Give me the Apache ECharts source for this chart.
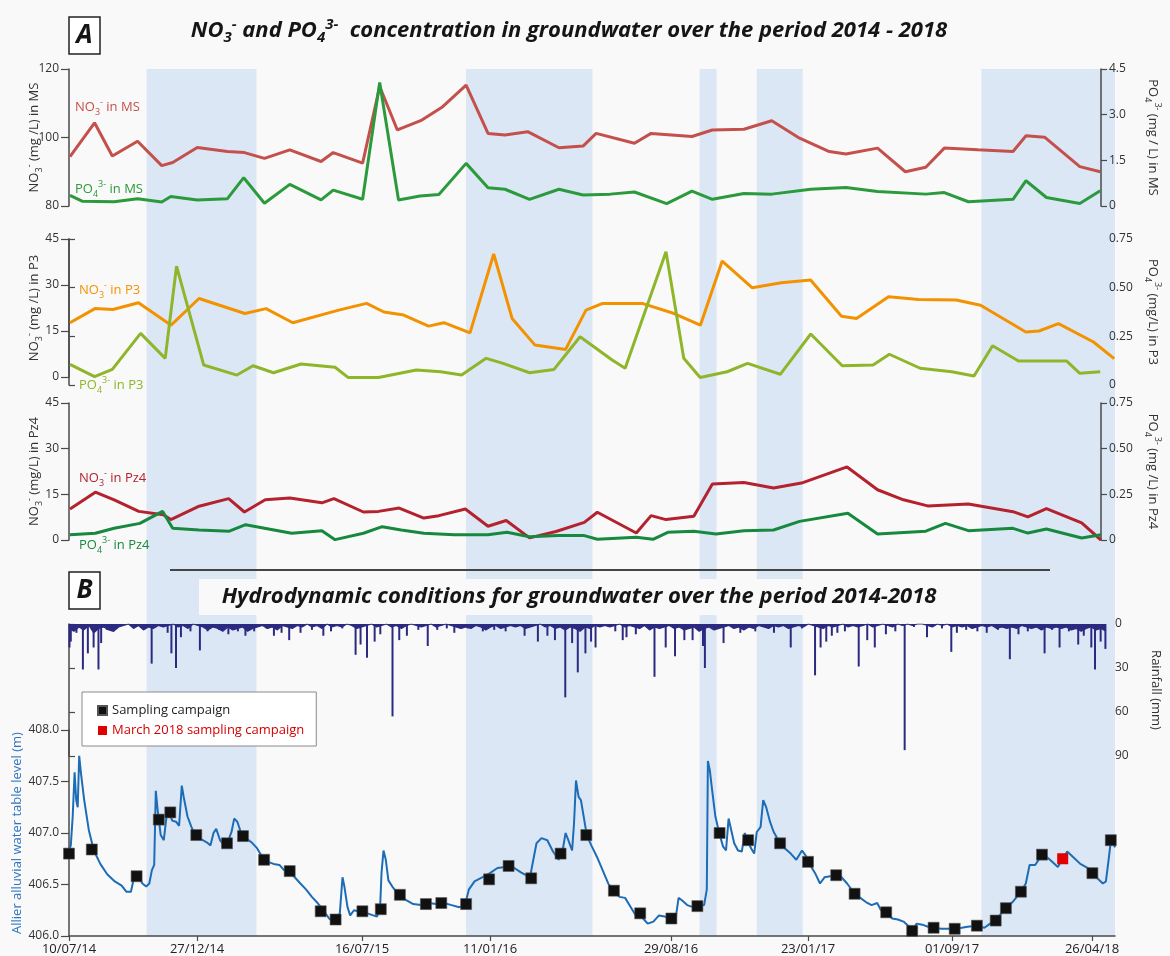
<!DOCTYPE html>
<html>
<head>
<meta charset="utf-8">
<script src="https://cdn.jsdelivr.net/npm/echarts@6.0.0/dist/echarts.min.js"></script>
<style>
  html, body { margin: 0; padding: 0; background: #f9f9f9; }
  #chart { width: 1170px; height: 956px; }
</style>
</head>
<body>
<div id="chart"></div>
<script>
const FONT = "'Open Sans', 'Noto Sans', sans-serif";
const BG = '#f9f9f9';

// x is the position along the shared time line (0 = 10/07/14)
const X_MAX = 1046;
const tickPos = [0, 128, 293, 421, 602, 739, 883, 1023];
const tickLabels = ['10/07/14', '27/12/14', '16/07/15', '11/01/16', '29/08/16', '23/01/17', '01/09/17', '26/04/18'];

// shaded periods
const bandStart = [77.6, 397, 630.6, 687.8, 912.4];
const bandEnd = [187.4, 523.4, 647.6, 733.7, 1046];

// panel A : MS
const no3MS = [[1,94.4],[25.9,104.3],[43.9,94.6],[69.5,98.9],[94,91.8],[105.1,92.7],[130,97.1],[160.6,95.9],[177.8,95.6],[198.1,93.9],[223.8,96.4],[255.5,93.0],[267.8,95.6],[297.6,92.5],[314.9,114.9],[332.8,102.2],[357.7,105.1],[378.8,109.0],[402.5,115.3],[424.7,101.2],[441.9,100.7],[464.9,101.7],[496.6,97.0],[521,97.5],[534.3,101.2],[573.1,98.3],[590,101.2],[631.4,100.3],[652.1,102.2],[684.1,102.4],[712.3,104.9],[740.5,99.8],[770.6,95.9],[787.5,95.2],[819.5,96.9],[847.7,90.0],[868.4,91.3],[887.2,96.9],[921.1,96.4],[956.8,95.9],[970,100.5],[988.8,100.1],[1024.5,91.5],[1045.2,90.0]];
const po4MS = [[1,0.35],[13.3,0.16],[45.8,0.14],[69.5,0.24],[94,0.13],[103.2,0.31],[130,0.20],[160.6,0.24],[177.1,0.93],[198.1,0.09],[223.8,0.71],[255.5,0.20],[267.8,0.52],[297.6,0.22],[314.9,4.06],[334,0.20],[355.8,0.33],[374.9,0.38],[402.5,1.40],[424.7,0.60],[441.9,0.55],[466.8,0.22],[496.6,0.55],[521,0.36],[548.6,0.39],[573.1,0.46],[605.8,0.08],[631.4,0.49],[652.1,0.22],[684.1,0.41],[712.3,0.39],[751.8,0.55],[787.5,0.61],[819.5,0.48],[868.4,0.39],[887.2,0.44],[911.6,0.14],[956.8,0.22],[970,0.83],[990.7,0.28],[1024.5,0.08],[1045.2,0.50]];

// panel A : P3
const no3P3 = [[1,17.7],[25.9,22.3],[43.9,22.0],[69.5,24.2],[102.1,16.9],[130,25.6],[175.9,20.7],[197,22.3],[223.8,17.7],[269.7,21.8],[297.6,24.0],[314.9,21.2],[334.7,20.2],[359.6,16.6],[374.9,17.7],[401,14.4],[424.7,40.1],[443.1,19.1],[466,10.4],[496.6,9.0],[517,21.8],[533.6,24.0],[573.1,24.0],[605.1,20.7],[631.4,16.9],[653.2,37.8],[683.3,29.1],[712.3,30.7],[741.6,31.6],[772.5,19.8],[787.5,19.1],[819.5,26.2],[849.6,25.3],[887.2,25.1],[911.6,23.4],[956.8,14.7],[970,15.0],[989.5,17.4],[1024.5,11.4],[1045.2,6.0]];
const po4P3 = [[1,0.106],[25.9,0.043],[43.9,0.080],[72.6,0.265],[97.5,0.137],[109,0.611],[136.5,0.103],[170.2,0.051],[186.6,0.099],[207.3,0.063],[235.2,0.108],[269.7,0.091],[283.1,0.038],[313.7,0.039],[352,0.077],[376.8,0.068],[397.9,0.051],[422.8,0.137],[440,0.111],[466.8,0.063],[491.6,0.080],[518,0.248],[550.5,0.128],[563.7,0.086],[605.1,0.685],[623.1,0.137],[639.7,0.039],[667.1,0.068],[687.8,0.111],[720.9,0.055],[751.8,0.262],[783.7,0.099],[815,0.103],[831.5,0.158],[862.7,0.086],[894.7,0.068],[917.3,0.046],[936.1,0.202],[962.4,0.123],[1011.3,0.123],[1024.5,0.060],[1045.2,0.068]];

// panel A : Pz4
const no3Pz4 = [[1,10.2],[26.7,15.7],[45.8,13.2],[70.7,9.4],[95.6,8.3],[103.2,6.7],[131.9,11.1],[161.8,13.6],[177.8,9.2],[198.9,13.2],[223.8,13.8],[256.3,12.2],[268.5,13.6],[298.4,9.2],[313.7,9.4],[334.7,10.5],[359.6,7.2],[374.9,8.0],[401.7,10.2],[424.7,4.5],[443.1,6.4],[466.8,0.7],[493.6,2.8],[522.3,5.8],[535.5,9.1],[575,2.3],[590,8.0],[605.1,6.7],[633.3,7.8],[652.1,18.4],[684.1,18.9],[714.1,17.1],[742.4,18.7],[788.6,24.0],[819.5,16.5],[845.8,13.2],[870.3,11.2],[911.6,11.8],[956.8,9.3],[971.9,7.6],[990.7,10.3],[1026.4,5.6],[1046,0]];
const po4Pz4 = [[1,0.029],[26.7,0.037],[45.8,0.064],[71.8,0.091],[94.8,0.157],[105.1,0.064],[131.9,0.055],[162.5,0.048],[179,0.084],[225.7,0.037],[256.3,0.051],[269.7,0.002],[298.4,0.037],[317.5,0.073],[336.7,0.055],[359.6,0.037],[390.2,0.029],[424.7,0.029],[443.8,0.042],[466.8,0.018],[495.5,0.024],[522.3,0.024],[535.5,0.004],[575,0.015],[591.9,0.004],[606.9,0.042],[633.3,0.048],[655.8,0.033],[684.1,0.051],[714.1,0.055],[740.5,0.102],[789.4,0.146],[819.5,0.033],[868.4,0.048],[888.3,0.091],[911.6,0.051],[956.8,0.064],[971.9,0.038],[990.7,0.060],[1026.4,0.011],[1046,0.029]];

// panel B : rainfall (mm)
const RAIN_STEP = 5;
const rainSmall = [3,5,2,4,1,6,3,2,4,5, 2,1,0,3,1,4,2,3,1,2, 1,0,2,1,3,0,1,2,4,2, 3,5,2,4,3,2,5,3,2,1,
  3,2,4,1,2,3,1,2,0,2, 1,3,0,2,1,2,0,1,3,2, 1,0,2,1,0,2,1,3,1,0, 1,2,1,0,2,1,0,1,2,3,
  2,3,1,2,4,2,1,3,2,1, 2,1,3,2,1,0,2,1,3,2, 4,2,3,5,2,3,1,2,1,2, 1,0,2,1,2,3,1,4,2,3,
  2,1,3,2,4,3,2,5,3,2, 4,3,2,1,3,2,4,2,3,1, 2,3,1,2,1,3,2,1,2,0, 1,2,3,1,2,1,0,2,1,2,
  1,0,2,1,0,1,2,0,1,0, 1,0,0,1,2,0,1,0,2,1, 2,1,3,2,1,2,1,3,2,3, 2,3,1,2,3,2,4,2,3,2,
  3,2,4,3,5,3,2,4,3,5];
const rainSpikes = [[0.5,16],[1.8,12],[7.5,6],[14,31],[19,20],[24.8,16],[29.7,31],[32.4,13],[38.2,4],[47.7,3],[68,2],[83.3,27],[99.4,6],[103.2,20],[107.8,30],[112.8,9],[122.4,5],[131.9,18],[139.6,5],[151.1,4],[160.6,7],[170.2,5],[177.8,8],[186.6,5],[198.9,3],[206.5,8],[214.2,6],[221.9,11],[233.3,6],[244.8,4],[256.3,8],[264,5],[275.4,3],[288.8,21],[293.8,14],[300.3,23],[308,12],[313.7,7],[326,63],[332.8,11],[340.5,8],[352,4],[361.5,15],[371.1,4],[380.7,3],[388.3,6],[401.7,3],[417,5],[428.5,4],[440,5],[459.1,8],[472.5,12],[482.1,8],[489.7,11],[500.1,50],[507,13],[512.7,33],[520.4,20],[526.1,12],[530.6,16],[550.5,5],[558,11],[561.8,9],[571.2,7],[590,36],[601.3,16],[610.7,22],[620.1,11],[628.4,11],[638.9,15],[640.8,30],[659.6,13],[676.5,6],[691.6,5],[710.4,6],[727.3,16],[738.6,3],[751.8,35],[757.4,16],[763.1,12],[768.7,8],[774.3,6],[781.9,5],[795.8,29],[804.4,11],[812,16],[823.2,7],[832.7,5],[842.1,86],[851.5,2],[864.6,9],[879.7,3],[889.1,19],[894.7,6],[904.1,4],[915.4,5],[924.8,6],[936.1,4],[948.1,24],[956.8,7],[966.2,5],[983.1,20],[990.7,4],[998.2,16],[1007.6,5],[1017,14],[1022.6,8],[1030.2,16],[1033.9,31],[1039.6,12],[1044.4,17]];

// panel B : water table level (m)
const waterLevel = [[0,406.83],[1.8,406.88],[3.7,407.16],[5.6,407.59],[7.2,407.32],[8.7,407.25],[10.2,407.75],[12.1,407.57],[15.2,407.32],[19.8,407.03],[24.8,406.83],[31.3,406.70],[38.2,406.60],[45.8,406.53],[52.7,406.49],[57.3,406.43],[61.9,406.43],[64.9,406.56],[68.8,406.59],[73.4,406.51],[77.2,406.48],[80.3,406.51],[82.9,406.64],[85.2,406.69],[86.8,407.41],[88.7,407.22],[91.7,406.98],[94.8,406.93],[97.5,407.16],[100.2,407.20],[103.2,407.12],[107,407.11],[110.1,407.07],[112.8,407.46],[114.7,407.35],[118.5,407.16],[122.4,407.06],[126.2,406.98],[130,406.95],[133.8,406.93],[137.7,406.91],[141.5,406.88],[144.5,407.00],[147.2,407.04],[151.1,406.93],[154.9,406.88],[158.7,406.91],[162.5,407.01],[165.2,407.14],[168.3,407.11],[172.1,407.00],[175.9,406.95],[179.8,406.93],[183.6,406.90],[188.2,406.85],[193.1,406.77],[198.9,406.72],[204.6,406.70],[210.4,406.69],[215,406.64],[219.9,406.64],[225.7,406.57],[231.4,406.51],[237.2,406.45],[242.9,406.38],[248.6,406.32],[254.4,406.25],[260.1,406.17],[264,406.14],[267.8,406.17],[270.8,406.22],[273.5,406.57],[275.4,406.48],[278.5,406.28],[281.2,406.20],[285,406.25],[288.8,406.24],[292.6,406.25],[298.4,406.22],[304.1,406.20],[307.9,406.19],[311,406.25],[312.5,406.61],[314.5,406.83],[316.8,406.74],[319.4,406.54],[323.3,406.48],[329,406.41],[336.7,406.35],[344.3,406.31],[352,406.30],[359.6,406.32],[367.3,406.31],[374.9,406.32],[382.6,406.30],[390.2,406.28],[396,406.30],[399.8,406.45],[405.5,406.53],[413.2,406.57],[420.9,406.61],[428.5,406.66],[436.2,406.67],[443.8,406.67],[451.5,406.62],[461,406.57],[464.9,406.77],[467.5,406.90],[472.5,406.95],[478.3,406.93],[484,406.82],[489.7,406.74],[493.6,406.83],[496.6,407.00],[499.3,406.93],[503.1,406.83],[505,407.09],[507,407.51],[509.6,407.35],[511.9,407.32],[517.8,406.98],[522.3,406.88],[527.9,406.77],[533.6,406.64],[539.2,406.51],[544.9,406.43],[550.5,406.38],[556.1,406.37],[561.8,406.28],[567.4,406.19],[571.2,406.20],[575,406.16],[578.7,406.12],[584.4,406.14],[590,406.20],[595.6,406.19],[602.4,406.17],[606.9,406.19],[609.6,406.37],[612.6,406.35],[618.2,406.30],[623.9,406.28],[628.4,406.29],[635.1,406.30],[637.8,406.45],[638.9,407.70],[640.8,407.61],[642.7,407.45],[646.4,407.16],[650.2,407.00],[654,406.87],[657,406.83],[659.6,407.14],[662.2,407.03],[665.2,406.90],[669,406.83],[672.8,406.82],[675.8,407.00],[679.2,406.91],[682.2,406.85],[685.2,406.80],[687.8,407.01],[691.6,407.06],[694.2,407.32],[697.2,407.25],[701,407.11],[704.7,407.01],[711.1,406.90],[716,406.85],[721.7,406.80],[727.3,406.74],[733,406.83],[736.7,406.78],[740.5,406.70],[746.1,406.61],[751,406.51],[755.5,406.57],[761.2,406.58],[767.2,406.59],[772.5,406.57],[778.1,406.51],[785.6,406.41],[791.3,406.37],[796.9,406.33],[802.6,406.30],[808.2,406.32],[812,406.25],[817.2,406.23],[823.2,406.17],[828.9,406.16],[834.5,406.14],[840.2,406.09],[843.2,406.05],[847.7,406.12],[853.3,406.11],[859,406.09],[864.6,406.08],[872.2,406.07],[879.7,406.07],[885.7,406.07],[892.8,406.08],[898.5,406.09],[907.9,406.10],[915.4,406.08],[921.1,406.12],[926.7,406.15],[932.3,406.22],[936.9,406.27],[943.6,406.33],[951.9,406.43],[956.8,406.51],[960.6,406.69],[966.2,406.69],[973,406.79],[977.5,406.77],[983.2,406.72],[988.8,406.67],[993.7,406.75],[998.2,406.82],[1003.8,406.77],[1011.3,406.70],[1018.9,406.66],[1023.4,406.61],[1028.3,406.56],[1033.9,406.51],[1036.9,406.53],[1039.6,406.74],[1041.8,406.92],[1044.4,406.90],[1046,406.86]];
const campaigns = [[0,406.80],[22.8,406.84],[67.6,406.58],[89.8,407.13],[101.3,407.20],[127.3,406.98],[158,406.90],[174,406.97],[195.1,406.74],[220.7,406.63],[251.7,406.24],[266.6,406.16],[293.4,406.24],[311.8,406.26],[330.9,406.40],[356.9,406.31],[372.3,406.32],[397.1,406.31],[420.1,406.55],[439.6,406.68],[462.2,406.56],[491.6,406.80],[517.3,406.98],[544.9,406.44],[571.2,406.22],[602.4,406.17],[628.4,406.29],[650.6,407.00],[679.2,406.93],[711.1,406.90],[739,406.72],[767.2,406.59],[785.6,406.41],[817.2,406.23],[843.2,406.05],[864.6,406.08],[885.7,406.07],[907.9,406.10],[926.7,406.15],[936.9,406.27],[951.9,406.43],[973,406.79],[1023.4,406.61],[1041.8,406.93]];
const march2018 = [[993.7,406.75]];

const C_NO3_MS = '#c4504c', C_PO4_MS = '#2b9a3c';
const C_NO3_P3 = '#f39200', C_PO4_P3 = '#8fb52a';
const C_NO3_PZ4 = '#b3222d', C_PO4_PZ4 = '#17893f';
const C_RAIN = '#2c2a80';
const C_AXIS = '#4a4a4a';

// rich text styles for sub/superscripts (both echarts "color" and zrender "fill")
function richStyles(color, size, extra) {
  const small = Math.round(size * 0.66);
  const base = Object.assign({ color: color, fill: color, fontFamily: FONT }, extra || {});
  return {
    t: Object.assign({}, base, { fontSize: size, lineHeight: size + 6 }),
    sb: Object.assign({}, base, { fontSize: small, lineHeight: small, verticalAlign: 'bottom' }),
    sp: Object.assign({}, base, { fontSize: small, lineHeight: small, verticalAlign: 'top' })
  };
}
const no3Name = rest => '{t|NO}{sb|3}{sp|-}{t|' + rest + '}';
const po4Name = rest => '{t|PO}{sb|4}{sp|3-}{t|' + rest + '}';

function yAxis(gridIndex, position, min, max, interval, digits, name, opts) {
  opts = opts || {};
  const left = position === 'left';
  const tickLen = left ? 8 : 6;
  return {
    type: 'value', gridIndex, position, min, max, interval,
    inverse: !!opts.inverse,
    axisLine: { show: true, lineStyle: { color: C_AXIS, width: 1.5 } },
    axisTick: { show: true, length: tickLen, lineStyle: { color: C_AXIS, width: 1.2 } },
    axisLabel: {
      color: '#333', fontSize: 12, fontFamily: FONT, margin: tickLen + 2,
      formatter: v => (v === 0 ? '0' : v.toFixed(digits))
    },
    splitLine: { show: false },
    name,
    nameLocation: 'middle',
    nameRotate: left ? 90 : -90,
    nameGap: opts.nameGap || (left ? 25 : 42),
    nameMoveOverlap: false,
    nameTextStyle: { color: opts.nameColor || '#333', fontSize: 13, fontFamily: FONT,
      rich: richStyles(opts.nameColor || '#333', 13) }
  };
}

const grids = [
  { left: 69, right: 55, top: 69, height: 137 },   // MS
  { left: 69, right: 55, top: 239, height: 138 },  // P3 NO3
  { left: 69, right: 55, top: 239, height: 146 },  // P3 PO4
  { left: 69, right: 55, top: 403, height: 137 },  // Pz4
  { left: 69, right: 55, top: 624, height: 132 },  // rainfall
  { left: 69, right: 55, top: 730, height: 206 },  // water table
  { left: 69, right: 55, top: 69, height: 867 }    // shaded periods
];

const xAxes = grids.map((g, i) => {
  const ax = { type: 'value', gridIndex: i, min: 0, max: X_MAX, show: i === 5 };
  if (i === 5) {
    Object.assign(ax, {
      axisLine: { lineStyle: { color: C_AXIS, width: 1.5 } },
      axisTick: { show: true, customValues: tickPos, length: 5, lineStyle: { color: C_AXIS, width: 1.2 } },
      axisLabel: {
        customValues: tickPos, color: '#222', fontSize: 13, fontFamily: FONT, margin: 7,
        formatter: v => tickLabels[tickPos.indexOf(v)] || ''
      },
      splitLine: { show: false }
    });
  }
  return ax;
});

const yAxes = [
  yAxis(0, 'left', 80, 120, 20, 0, no3Name(' (mg /L) in MS')),
  yAxis(0, 'right', 0, 4.5, 1.5, 1, po4Name(' (mg / L) in MS')),
  yAxis(1, 'left', 0, 45, 15, 0, no3Name(' (mg /L) in P3')),
  yAxis(2, 'right', 0, 0.75, 0.25, 2, po4Name(' (mg/L) in P3')),
  yAxis(3, 'left', 0, 45, 15, 0, no3Name(' (mg/L) in Pz4')),
  yAxis(3, 'right', 0, 0.75, 0.25, 2, po4Name(' (mg /L) in Pz4')),
  yAxis(4, 'right', 0, 90, 30, 0, 'Rainfall (mm)', { inverse: true }),
  yAxis(5, 'left', 406, 408, 0.5, 1, 'Allier alluvial water table level (m)', { nameColor: '#2f73bf', nameGap: 45 }),
  { type: 'value', gridIndex: 6, min: 0, max: 1, show: false }
];

function line(data, xi, yi, color, width) {
  return {
    type: 'line', data, xAxisIndex: xi, yAxisIndex: yi, symbol: 'none', z: 3,
    lineStyle: { color, width: width || 3 }, itemStyle: { color }, silent: true
  };
}

function label(x, y, text, color) {
  return {
    type: 'text', x, y, z: 20,
    style: { text, rich: richStyles(color, 13), fill: color, fontSize: 13, fontFamily: FONT, align: 'left', verticalAlign: 'middle' }
  };
}

function titleText(x, y, text, size) {
  const ex = { fontWeight: 'bold', fontStyle: 'italic' };
  return {
    type: 'text', x, y, z: 20,
    style: { text, rich: richStyles('#151515', size, ex), fill: '#151515', fontSize: size, fontFamily: FONT,
      fontWeight: 'bold', fontStyle: 'italic', align: 'center', verticalAlign: 'middle' }
  };
}

function boxLetter(x, y, w, h, letter) {
  return [
    { type: 'rect', z: 20, shape: { x, y, width: w, height: h }, style: { fill: '#fff', stroke: '#222', lineWidth: 1.5 } },
    { type: 'text', z: 21, x: x + w / 2, y: y + h / 2,
      style: { text: letter, fill: '#151515', fontSize: 26, fontWeight: 'bold', fontStyle: 'italic', fontFamily: FONT, align: 'center', verticalAlign: 'middle' } }
  ];
}

const chart = echarts.init(document.getElementById('chart'), null, { renderer: 'canvas' });
chart.setOption({
  backgroundColor: BG,
  animation: false,
  grid: grids,
  xAxis: xAxes,
  yAxis: yAxes,
  legend: {
    data: [
      { name: 'Sampling campaign', icon: 'rect', itemStyle: { color: '#111', opacity: 1 }, textStyle: { color: '#222' } },
      { name: 'March 2018 sampling campaign', icon: 'rect', itemStyle: { color: '#e00000', opacity: 1 }, textStyle: { color: '#d40000' } }
    ],
    orient: 'vertical', left: 82, top: 692, itemWidth: 9, itemHeight: 9, itemGap: 7,
    padding: [12, 12, 9, 15], backgroundColor: '#fff', borderColor: '#8a8a8a', borderWidth: 1,
    textStyle: { fontSize: 13, fontFamily: FONT }, selectedMode: false, z: 10
  },
  graphic: [
    { type: 'rect', z: 1, shape: { x: 199, y: 579, width: 751, height: 36 }, style: { fill: BG } },
    { type: 'line', z: 20, shape: { x1: 170, y1: 570, x2: 1050, y2: 570 }, style: { stroke: '#444', lineWidth: 2 } },
    ...boxLetter(69, 17, 31, 37, 'A'),
    ...boxLetter(69, 572, 31, 37, 'B'),
    titleText(569, 31, '{t|NO}{sb|3}{sp|-}{t| and PO}{sb|4}{sp|3-}{t|  concentration in groundwater over the period 2014 - 2018}', 22),
    titleText(579, 597, 'Hydrodynamic conditions for groundwater over the period 2014-2018', 22),
    label(75, 107, no3Name(' in MS'), C_NO3_MS),
    label(75, 189, po4Name(' in MS'), C_PO4_MS),
    label(79, 290, no3Name(' in P3'), C_NO3_P3),
    label(79, 385, po4Name(' in P3'), C_PO4_P3),
    label(79, 478, no3Name(' in Pz4'), C_NO3_PZ4),
    label(79, 545, po4Name(' in Pz4'), C_PO4_PZ4)
  ],
  series: [
    {
      type: 'custom', xAxisIndex: 6, yAxisIndex: 8, z: 0, silent: true,
      data: bandStart.map((s, i) => [s, bandEnd[i], 0, 1]),
      encode: { x: [0, 1], y: [2, 3] },
      renderItem: (params, api) => {
        const a = api.coord([api.value(0), 1]);
        const b = api.coord([api.value(1), 0]);
        return { type: 'rect', shape: { x: a[0], y: a[1], width: b[0] - a[0], height: b[1] - a[1] }, style: { fill: '#dce7f6' } };
      }
    },
    line(no3MS, 0, 0, C_NO3_MS),
    line(po4MS, 0, 1, C_PO4_MS),
    line(no3P3, 1, 2, C_NO3_P3),
    line(po4P3, 2, 3, C_PO4_P3),
    line(no3Pz4, 3, 4, C_NO3_PZ4),
    line(po4Pz4, 3, 5, C_PO4_PZ4),
    {
      // dense small daily rain along the top of the strip
      type: 'line', xAxisIndex: 4, yAxisIndex: 6, z: 3, silent: true, symbol: 'none',
      data: rainSmall.map((v, i) => [i * RAIN_STEP, v]),
      lineStyle: { color: C_RAIN, width: 1.2 },
      areaStyle: { color: C_RAIN, opacity: 1 }
    },
    {
      type: 'bar', xAxisIndex: 4, yAxisIndex: 6, data: rainSpikes, barWidth: 2, z: 3, silent: true,
      itemStyle: { color: C_RAIN }
    },
    line(waterLevel, 5, 7, '#1d6cb6', 2),
    {
      name: 'Sampling campaign', type: 'scatter', xAxisIndex: 5, yAxisIndex: 7, data: campaigns, z: 4,
      symbol: 'rect', symbolSize: 11, itemStyle: { color: '#111', opacity: 1, borderColor: '#555', borderWidth: 0.6 }
    },
    {
      name: 'March 2018 sampling campaign', type: 'scatter', xAxisIndex: 5, yAxisIndex: 7, data: march2018, z: 4,
      symbol: 'rect', symbolSize: 11, itemStyle: { color: '#e00000', opacity: 1 }
    }
  ]
});
</script>
</body>
</html>
